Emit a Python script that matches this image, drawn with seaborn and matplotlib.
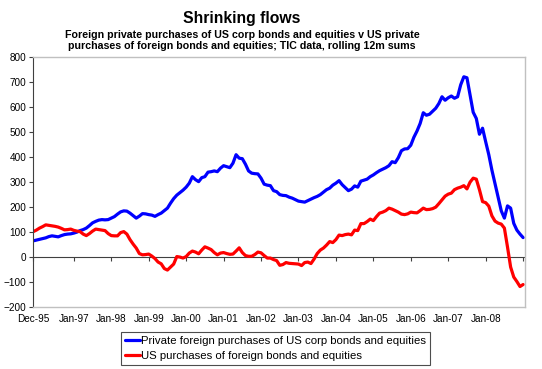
import numpy as np
import pandas as pd
import matplotlib
matplotlib.use("Agg")
import matplotlib.pyplot as plt
import seaborn as sns

# rolling 12m sums, monthly from Dec-95, $bn
foreign_buys_us = [
    65, 68, 71, 74, 77, 82, 85, 83, 81, 86, 90, 92, 93, 96, 100, 106, 110, 116, 126, 137,
    143, 148, 150, 149, 150, 156, 162, 172, 181, 185, 184, 176, 166, 156, 164, 174, 173, 170, 168, 163,
    170, 176, 186, 196, 216, 234, 248, 258, 268, 280, 296, 322, 310, 302, 318, 322, 340, 342, 345, 342,
    356, 366, 362, 358, 376, 410, 396, 394, 372, 345, 336, 334, 333, 316, 292, 288, 286, 266, 262, 250,
    247, 246, 240, 236, 230, 224, 222, 220, 226, 232, 238, 243, 250, 260, 270, 276, 288, 296, 306, 290,
    278, 266, 272, 285, 280, 304, 308, 312, 322, 329, 338, 346, 352, 358, 366, 382, 378, 398, 426, 433,
    434, 448, 480, 505, 535, 578, 568, 572, 584, 596, 615, 642, 628, 638, 645, 636, 642, 690, 722, 718,
    650, 580, 555, 492, 516, 462, 410, 348, 294, 240, 185, 156, 205, 196, 135, 108, 92, 78,
]
us_buys_foreign = [
    102, 108, 116, 122, 129, 127, 125, 123, 120, 115, 109, 110, 112, 107, 104, 102, 92, 86, 94, 104,
    112, 110, 108, 106, 94, 86, 85, 85, 98, 102, 92, 70, 52, 36, 14, 9, 10, 12, 4, -6,
    -20, -27, -46, -52, -40, -28, 2, 0, -4, 2, 16, 24, 20, 13, 28, 41, 36, 30, 18, 9,
    16, 18, 14, 11, 12, 24, 37, 18, 6, 3, 3, 10, 20, 17, 6, -4, -4, -10, -14, -33,
    -30, -22, -25, -26, -27, -28, -34, -22, -20, -26, -8, 14, 28, 36, 48, 62, 58, 70, 88, 86,
    90, 92, 89, 108, 106, 134, 134, 142, 152, 146, 162, 176, 180, 186, 196, 192, 186, 180, 172, 170,
    173, 180, 178, 177, 186, 196, 190, 191, 194, 200, 214, 229, 244, 252, 256, 270, 276, 280, 286, 273,
    300, 316, 312, 270, 222, 218, 204, 165, 144, 136, 132, 116, 40, -40, -80, -98, -118, -110,
]
series_names = [
    "Private foreign purchases of US corp bonds and equities",
    "US purchases of foreign bonds and equities",
]
tick_months = [0, 13, 25, 37, 49, 61, 73, 85, 97, 109, 121, 133, 145, 157]
tick_labels = ["Dec-95", "Jan-97", "Jan-98", "Jan-99", "Jan-00", "Jan-01", "Jan-02",
               "Jan-03", "Jan-04", "Jan-05", "Jan-06", "Jan-07", "Jan-08", ""]

n = len(foreign_buys_us)
df = pd.DataFrame({
    "month": np.tile(np.arange(n), 2),
    "value": foreign_buys_us + us_buys_foreign,
    "series": [series_names[0]] * n + [series_names[1]] * n,
})

sns.set_style("white")
plt.rcParams["font.family"] = ["Liberation Sans", "DejaVu Sans"]
plt.rcParams["text.color"] = "black"
plt.rcParams["xtick.color"] = "black"
plt.rcParams["ytick.color"] = "black"

fig = plt.figure(figsize=(5.42, 3.69), dpi=100)
ax = fig.add_axes([0.0614, 0.168, 0.9072, 0.6767])

sns.lineplot(data=df, x="month", y="value", hue="series", palette=["#0000ff", "#ff0000"],
             linewidth=2.3, ax=ax, legend=False)

ax.set_xlim(0, 157.6)
ax.set_ylim(-200, 800)
ax.set_yticks(range(-200, 801, 100))
ax.set_xlabel("")
ax.set_ylabel("")
ax.tick_params(axis="y", labelsize=7.2, length=3, width=0.8, color="#404040", left=True, pad=2)
ax.set_xticks(tick_months)
ax.set_xticklabels(tick_labels, fontsize=7.2)
ax.tick_params(axis="x", length=0, pad=5)

for side in ["top", "right", "bottom"]:
    ax.spines[side].set_color("#c0c0c0")
    ax.spines[side].set_linewidth(1)
ax.spines["left"].set_color("#404040")
ax.spines["left"].set_linewidth(0.8)

# zero line carrying the date ticks
ax.axhline(0, color="#404040", lw=0.8, zorder=1)
zero_ax = ax.secondary_xaxis(0.2)
zero_ax.set_xticks(tick_months)
zero_ax.set_xticklabels([])
zero_ax.tick_params(axis="x", length=3, width=0.8, color="#404040", direction="out")
zero_ax.spines["bottom"].set_visible(False)

fig.text(0.4465, 0.951, "Shrinking flows", ha="center", va="center", fontsize=11.3, weight="bold")
fig.text(0.4465, 0.891, "Foreign private purchases of US corp bonds and equities v US private\n"
         "purchases of foreign bonds and equities; TIC data, rolling 12m sums",
         ha="center", va="center", fontsize=7.7, weight="bold", linespacing=1.12)

handles = [plt.Line2D([], [], color="#0000ff", lw=2.3), plt.Line2D([], [], color="#ff0000", lw=2.3)]
leg = fig.legend(handles, series_names, loc="lower left", bbox_to_anchor=(0.223, 0.011),
                 fontsize=8.2, frameon=True, fancybox=False, handlelength=1.3,
                 handletextpad=0.15, borderpad=0.35, labelspacing=0.45, borderaxespad=0)
leg.get_frame().set_edgecolor("#202020")
leg.get_frame().set_linewidth(0.8)

fig.savefig("out.png", dpi=100)
